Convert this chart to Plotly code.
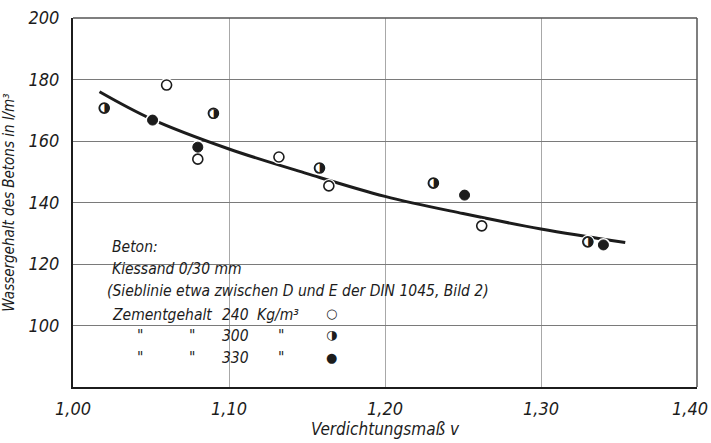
import plotly.graph_objects as go

# ---------------- data ----------------
open_x = [1.060, 1.080, 1.132, 1.164, 1.262]          # Zementgehalt 240 kg/m3
open_y = [178.2, 154.1, 154.8, 145.4, 132.4]
half_x = [1.020, 1.090, 1.158, 1.231, 1.330]          # Zementgehalt 300 kg/m3
half_y = [170.7, 169.0, 151.2, 146.3, 127.2]
full_x = [1.051, 1.080, 1.251, 1.340]                 # Zementgehalt 330 kg/m3
full_y = [166.8, 158.0, 142.4, 126.2]

curve_x = [1.017, 1.05, 1.10, 1.15, 1.20, 1.25, 1.30, 1.354]
curve_y = [176.0, 167.2, 157.4, 149.4, 142.0, 136.4, 131.4, 127.0]

x_ticks = [1.00, 1.10, 1.20, 1.30, 1.40]
x_tick_labels = ["1,00", "1,10", "1,20", "1,30", "1,40"]
y_ticks = [100, 120, 140, 160, 180, 200]
y_tick_labels = ["100", "120", "140", "160", "180", "200"]

FONT = "DejaVu Sans Condensed, Liberation Sans Narrow, sans-serif"
INK = "#1c1c1c"

fig = go.Figure()

# curve
fig.add_trace(go.Scatter(x=curve_x, y=curve_y, mode="lines",
                         line=dict(color=INK, width=3, shape="spline", smoothing=1.0),
                         hoverinfo="skip", showlegend=False))

# white halo under the points (gaps in the curve)
all_x = open_x + half_x + full_x
all_y = open_y + half_y + full_y
fig.add_trace(go.Scatter(x=all_x, y=all_y, mode="markers",
                         marker=dict(symbol="circle", size=14, color="white", line=dict(width=0)),
                         hoverinfo="skip", showlegend=False))

# open circles
fig.add_trace(go.Scatter(x=open_x, y=open_y, mode="markers",
                         marker=dict(symbol="circle", size=10, color="white",
                                     line=dict(color=INK, width=1.6)),
                         showlegend=False))
# half filled circles (glyph)
fig.add_trace(go.Scatter(x=half_x, y=half_y, mode="markers+text",
                         marker=dict(symbol="circle", size=10, color="white",
                                     line=dict(color=INK, width=1.6)),
                         text=["◑"] * len(half_x), textposition="middle center",
                         textfont=dict(family="DejaVu Sans", size=13, color=INK),
                         showlegend=False))
# filled circles
fig.add_trace(go.Scatter(x=full_x, y=full_y, mode="markers",
                         marker=dict(symbol="circle", size=10, color=INK,
                                     line=dict(color=INK, width=1)),
                         showlegend=False))

tick_font = dict(family=FONT, size=18, color=INK, style="italic")
title_font = dict(family=FONT, size=17, color=INK, style="italic")

# last x tick label is drawn right-aligned so it stays inside the picture
x_ticktext = x_tick_labels[:-1] + [""]

fig.update_xaxes(range=[1.0, 1.4], tickvals=x_ticks, ticktext=x_ticktext,
                 tickfont=tick_font, showgrid=True, gridcolor="#a8a8a8", gridwidth=1,
                 showline=True, linecolor=INK, linewidth=2, zeroline=False,
                 ticks="", ticklabelstandoff=4, automargin=False,
                 title=dict(text="Verdichtungsmaß v", font=title_font, standoff=4))
fig.update_yaxes(range=[80, 200], tickvals=y_ticks, ticktext=y_tick_labels,
                 tickfont=tick_font, showgrid=True, gridcolor="#7a7a7a", gridwidth=1.2,
                 showline=True, linecolor=INK, linewidth=2, zeroline=False,
                 ticks="", ticklabelstandoff=8, automargin=False,
                 title=dict(text="Wassergehalt des Betons in l/m³",
                            font=dict(family=FONT, size=15, color=INK, style="italic"), standoff=12))

fig.add_annotation(x=x_ticks[-1], y=0, xref="x", yref="paper", text=x_tick_labels[-1],
                   showarrow=False, xanchor="right", yanchor="top", xshift=13, yshift=-9,
                   font=tick_font)

# top/right frame (thinner, grey)
fig.add_shape(type="line", xref="paper", yref="paper", x0=0, x1=1, y0=1, y1=1,
              line=dict(color="#555555", width=1.5))
fig.add_shape(type="line", xref="paper", yref="paper", x0=1, x1=1, y0=0, y1=1,
              line=dict(color="#555555", width=1.5))

# legend block as text
lf = dict(family=FONT, size=15.5, color=INK, style="italic")
def txt(x, y, s, font=lf):
    fig.add_annotation(x=x, y=y, xref="paper", yref="paper", text=s, showarrow=False,
                       xanchor="left", yanchor="middle", font=font)

txt(0.059, 0.379, "Beton:")
txt(0.059, 0.320, "Kiessand 0/30 mm")
txt(0.052, 0.260, "(Sieblinie etwa zwischen D und E der DIN 1045, Bild 2)")
txt(0.059, 0.196, "Zementgehalt")
txt(0.236, 0.196, "240")
txt(0.292, 0.196, "Kg/m³")
for yy, val in [(0.139, "300"), (0.079, "330")]:
    txt(0.100, yy, '"')
    txt(0.182, yy, '"')
    txt(0.236, yy, val)
    txt(0.325, yy, '"')
gf = dict(family="DejaVu Sans", size=13, color=INK)
for yy, g in [(0.198, "○"), (0.141, "◑"), (0.081, "●")]:
    fig.add_annotation(x=0.415, y=yy, xref="paper", yref="paper", text=g, showarrow=False,
                       xanchor="center", yanchor="middle", font=gf)

fig.update_layout(width=711, height=443, margin=dict(l=73, r=14, t=18, b=56),
                  paper_bgcolor="white", plot_bgcolor="white", showlegend=False)

fig.write_html("out.html")
